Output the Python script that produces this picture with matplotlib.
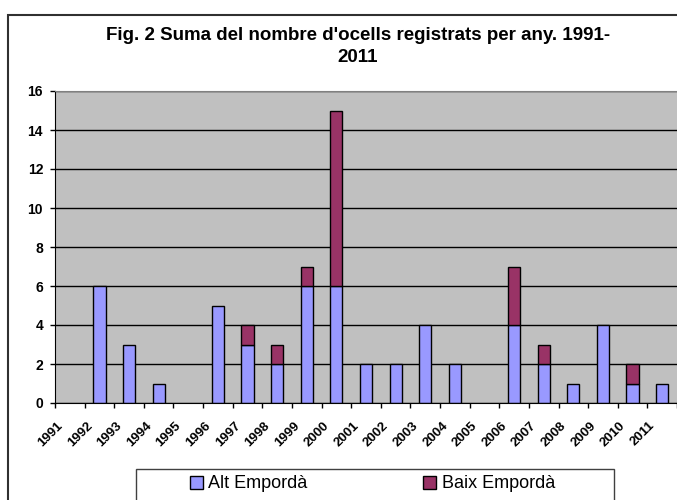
import numpy as np
import matplotlib.pyplot as plt
import matplotlib.transforms as mtransforms
from matplotlib.patches import Rectangle

years = [str(y) for y in range(1991, 2012)]
alt_emporda = [0, 6, 3, 1, 0, 5, 3, 2, 6, 6, 2, 2, 4, 2, 0, 4, 2, 1, 4, 1, 1]
baix_emporda = [0, 0, 0, 0, 0, 0, 1, 1, 1, 9, 0, 0, 0, 0, 0, 3, 1, 0, 0, 1, 0]

plt.rcParams['font.family'] = ['Liberation Sans', 'DejaVu Sans']

W, H = 677, 500
fig = plt.figure(figsize=(W / 100, H / 100), dpi=100, facecolor='white')

# outer chart border (runs off the right and bottom edges)
fig.patches.append(Rectangle((8 / W, -0.1), 1.2, 1 - 14.5 / H + 0.1,
                             transform=fig.transFigure, fill=False,
                             edgecolor='#303030', lw=1.5))

ax = fig.add_axes([55 / W, 1 - 403 / H, 622 / W, 312 / H],
                  facecolor='#C0C0C0', axisbelow=True)

x = np.arange(len(years))
alt = np.array(alt_emporda)
baix = np.array(baix_emporda)
# skip empty segments so no flat outlines are drawn
m1 = alt > 0
m2 = baix > 0
ax.bar(x[m1], alt[m1], width=0.41, color='#9999FF', edgecolor='black', lw=1)
ax.bar(x[m2], baix[m2], width=0.41, bottom=alt[m2], color='#993366',
       edgecolor='black', lw=1)

ax.set_xlim(-0.5, len(years) - 0.5)
ax.set_ylim(0, 16)
ax.set_yticks(range(0, 17, 2))
ax.yaxis.grid(True, color='black', lw=1)
ax.tick_params(axis='y', length=3.6, width=1, labelsize=10, pad=5)
for lab in ax.get_yticklabels():
    lab.set_fontweight('bold')

ax.set_xticks(x)
ax.set_xticks(np.arange(-0.5, len(years), 1), minor=True)
ax.set_xticklabels(years, rotation=45, ha='right', va='center',
                   rotation_mode='anchor', fontsize=9.5, fontweight='bold')
ax.tick_params(axis='x', which='major', length=0, pad=15)
ax.tick_params(axis='x', which='minor', length=3.6, width=1)
shift = mtransforms.ScaledTranslation(-9 / 100, 0, fig.dpi_scale_trans)
for lab in ax.get_xticklabels():
    lab.set_transform(lab.get_transform() + shift)

ax.spines['top'].set_color('#808080')
ax.spines['right'].set_visible(False)

fig.text(358 / W, 1 - 36 / H, "Fig. 2 Suma del nombre d'ocells registrats per any. 1991-",
         ha='center', va='center', fontsize=13.5, fontweight='bold')
fig.text(358 / W, 1 - 57.5 / H, "2011", ha='center', va='center',
         fontsize=13.5, fontweight='bold')

# legend box
fig.patches.append(Rectangle((136 / W, -0.1), 478 / W, 1 - 469 / H + 0.1,
                             transform=fig.transFigure, fill=False,
                             edgecolor='#404040', lw=1))
handles = [Rectangle((0, 0), 1, 1, facecolor='#9999FF', edgecolor='black', lw=1),
           Rectangle((0, 0), 1, 1, facecolor='#993366', edgecolor='black', lw=1)]
fig.legend(handles, ['Alt Empordà', 'Baix Empordà'], loc='center left',
           bbox_to_anchor=(190 / W, 1 - 484 / H), ncol=2, fontsize=13,
           frameon=False, handlelength=0.72, handleheight=0.72,
           handletextpad=0.3, columnspacing=6.4, borderpad=0, borderaxespad=0)

fig.savefig('out.png', dpi=100)
